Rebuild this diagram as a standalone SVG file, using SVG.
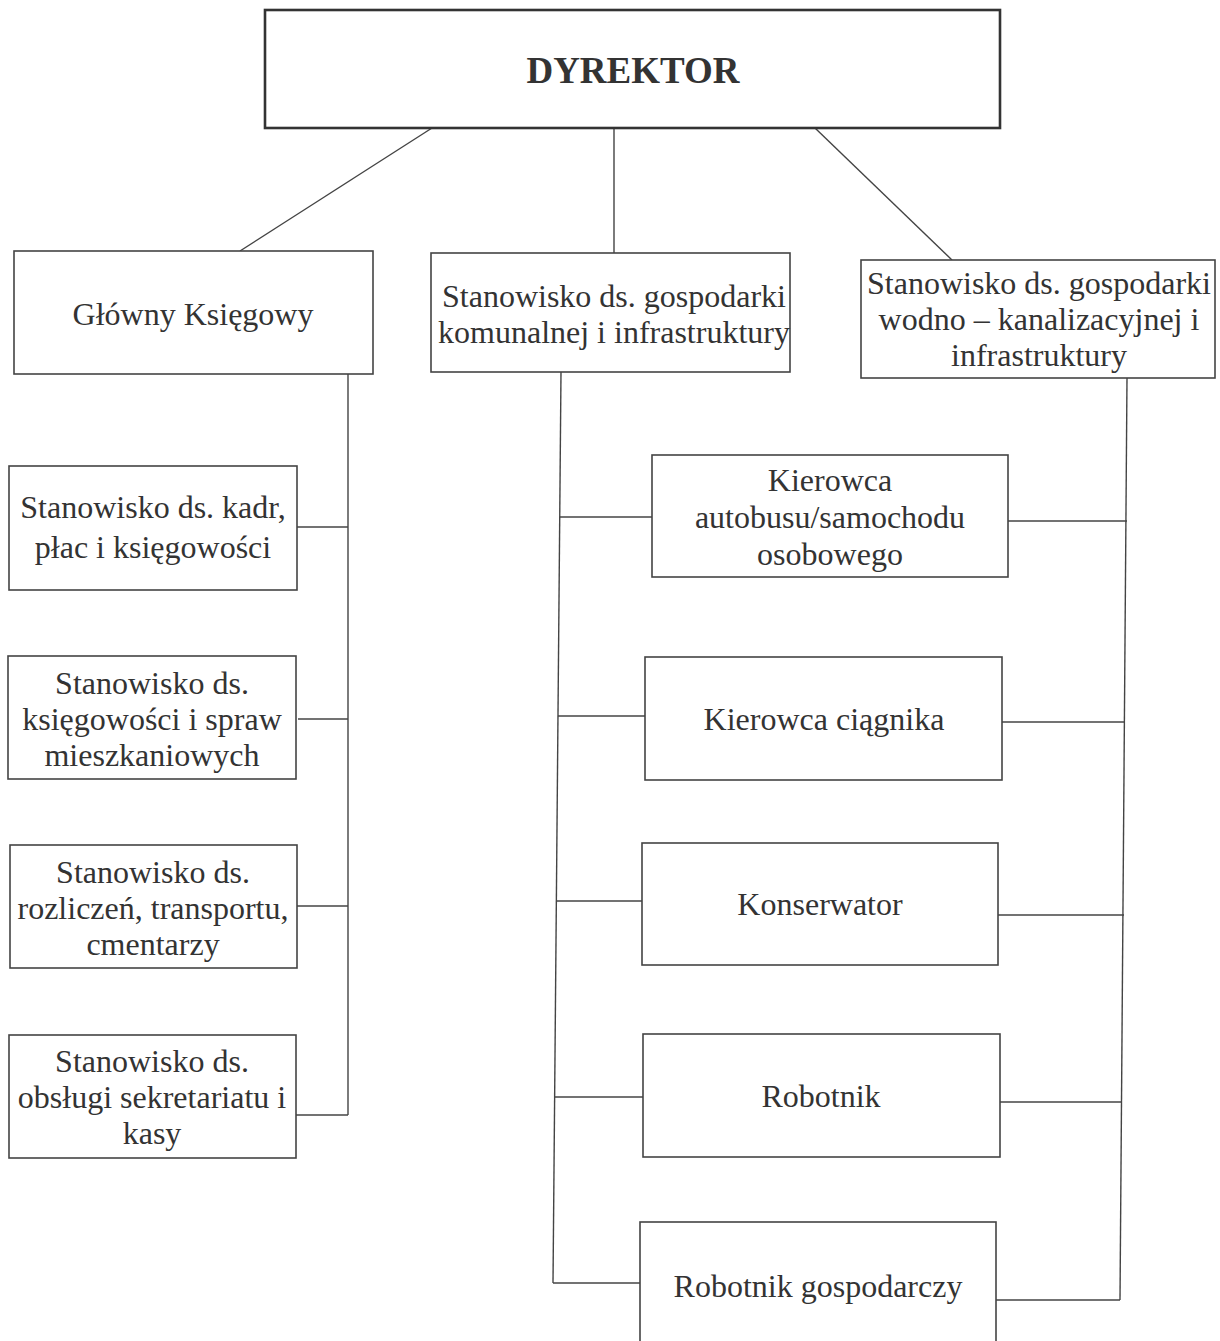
<svg xmlns="http://www.w3.org/2000/svg" width="1220" height="1341" viewBox="0 0 1220 1341">
<style>
.box{fill:#fff;stroke:#444;stroke-width:1.6}
.top{fill:#fff;stroke:#333;stroke-width:2.6}
.t{font-family:"Liberation Serif","Times New Roman",serif;font-size:32px;fill:#333;text-anchor:middle}
.b{font-weight:bold;font-size:37px}
#connectors line{stroke:#444;stroke-width:1.4}
</style>
<rect width="1220" height="1341" fill="#fff"/>
<g id="connectors">
<line x1="432" y1="128" x2="240" y2="251"/>
<line x1="614" y1="128" x2="614" y2="253"/>
<line x1="815" y1="128" x2="952" y2="260"/>
<line x1="348" y1="374" x2="348" y2="1115"/>
<line x1="297" y1="527" x2="348" y2="527"/>
<line x1="298" y1="719" x2="348" y2="719"/>
<line x1="297" y1="906" x2="348" y2="906"/>
<line x1="296" y1="1115" x2="348" y2="1115"/>
<line x1="561" y1="372" x2="553" y2="1283"/>
<line x1="560" y1="517" x2="652" y2="517"/>
<line x1="558" y1="716" x2="645" y2="716"/>
<line x1="556" y1="901" x2="642" y2="901"/>
<line x1="555" y1="1097" x2="643" y2="1097"/>
<line x1="553" y1="1283" x2="640" y2="1283"/>
<line x1="1127" y1="378" x2="1120" y2="1300"/>
<line x1="1008" y1="521" x2="1127" y2="521"/>
<line x1="1002" y1="722" x2="1125" y2="722"/>
<line x1="998" y1="915" x2="1124" y2="915"/>
<line x1="1000" y1="1102" x2="1122" y2="1102"/>
<line x1="996" y1="1300" x2="1120" y2="1300"/>
</g>
<g id="dyrektor"><rect class="top" x="265" y="10" width="735" height="118"/><text class="t b" x="633" y="83">DYREKTOR</text></g>
<g id="glowny"><rect class="box" x="14" y="251" width="359" height="123"/><text class="t" x="193" y="325">Główny Księgowy</text></g>
<g id="komunalna"><rect class="box" x="431" y="253" width="359" height="119"/><text class="t" x="614" y="307">Stanowisko ds. gospodarki</text><text class="t" x="614" y="343">komunalnej i infrastruktury</text></g>
<g id="wodkan"><rect class="box" x="861" y="260" width="354" height="118"/><text class="t" x="1039" y="294">Stanowisko ds. gospodarki</text><text class="t" x="1039" y="330">wodno – kanalizacyjnej i</text><text class="t" x="1039" y="366">infrastruktury</text></g>
<g id="kadry"><rect class="box" x="9" y="466" width="288" height="124"/><text class="t" x="153" y="518">Stanowisko ds. kadr,</text><text class="t" x="153" y="558">płac i księgowości</text></g>
<g id="mieszkaniowe"><rect class="box" x="8" y="656" width="288" height="123"/><text class="t" x="152" y="694">Stanowisko ds.</text><text class="t" x="152" y="730">księgowości i spraw</text><text class="t" x="152" y="766">mieszkaniowych</text></g>
<g id="rozliczenia"><rect class="box" x="10" y="845" width="287" height="123"/><text class="t" x="153" y="883">Stanowisko ds.</text><text class="t" x="153" y="919">rozliczeń, transportu,</text><text class="t" x="153" y="955">cmentarzy</text></g>
<g id="sekretariat"><rect class="box" x="9" y="1035" width="287" height="123"/><text class="t" x="152" y="1072">Stanowisko ds.</text><text class="t" x="152" y="1108">obsługi sekretariatu i</text><text class="t" x="152" y="1144">kasy</text></g>
<g id="kierowca"><rect class="box" x="652" y="455" width="356" height="122"/><text class="t" x="830" y="491">Kierowca</text><text class="t" x="830" y="528">autobusu/samochodu</text><text class="t" x="830" y="565">osobowego</text></g>
<g id="ciagnik"><rect class="box" x="645" y="657" width="357" height="123"/><text class="t" x="824" y="730">Kierowca ciągnika</text></g>
<g id="konserwator"><rect class="box" x="642" y="843" width="356" height="122"/><text class="t" x="820" y="915">Konserwator</text></g>
<g id="robotnik"><rect class="box" x="643" y="1034" width="357" height="123"/><text class="t" x="821" y="1107">Robotnik</text></g>
<g id="gospodarczy"><rect class="box" x="640" y="1222" width="356" height="130"/><text class="t" x="818" y="1297">Robotnik gospodarczy</text></g>
</svg>
